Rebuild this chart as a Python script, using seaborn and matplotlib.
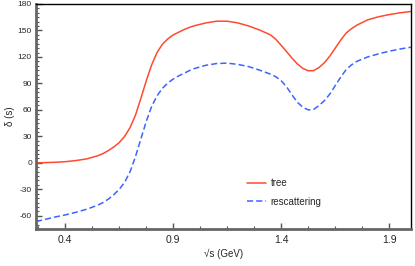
import numpy as np
import pandas as pd
import seaborn as sns
import matplotlib.pyplot as plt
from matplotlib.ticker import MultipleLocator

sqrt_s = [0.265, 0.3, 0.35, 0.4, 0.45, 0.5, 0.55, 0.575, 0.6, 0.625, 0.65, 0.675,
          0.7, 0.725, 0.75, 0.775, 0.8, 0.825, 0.85, 0.875, 0.9, 0.925, 0.95, 0.975,
          1.0, 1.05, 1.1, 1.15, 1.2, 1.25, 1.3, 1.35, 1.375, 1.4, 1.425, 1.45, 1.475,
          1.5, 1.525, 1.55, 1.575, 1.6, 1.625, 1.65, 1.675, 1.7, 1.725, 1.75, 1.8,
          1.85, 1.9, 1.95, 2.0]
tree = [0, 0.2, 0.6, 1.3, 2.6, 4.5, 8, 10.5, 14, 18, 23, 30,
        40, 54, 73, 93, 111, 125, 134.5, 140.5, 145, 148, 151, 153.5,
        155.5, 158.5, 160.5, 160.5, 158.5, 155, 150.5, 145, 140, 133, 126, 118.5, 112,
        107, 104.3, 104.5, 108, 113.5, 121, 130, 139, 147, 152, 156, 162,
        165.5, 168, 170, 171.5]
rescattering = [-66.5, -64.5, -61.5, -59, -56, -52.5, -48, -45, -41, -36, -30, -22,
                -10, 7, 27, 47, 64, 76, 84.5, 90.5, 95, 98.5, 101.5, 104.5,
                107, 110.5, 112.5, 113, 111.5, 109, 105, 100.5, 97.5, 93, 86, 77, 68.5,
                63, 60, 60.5, 65, 70.5, 78, 87.5, 97, 105.5, 111, 115, 120,
                123.5, 126.5, 129, 131]

df = pd.DataFrame({"x": sqrt_s, "tree": tree, "rescattering": rescattering})

sns.set_style("ticks")
plt.rcParams['font.family'] = ['Liberation Sans', 'DejaVu Sans']
plt.rcParams['axes.unicode_minus'] = False

fig, ax = plt.subplots(figsize=(4.15, 2.66), dpi=100)
fig.subplots_adjust(left=0.087, right=0.99, top=0.985, bottom=0.139)

sns.lineplot(data=df, x="x", y="tree", ax=ax, color="#ff4a30", lw=1.1, label="tree")
sns.lineplot(data=df, x="x", y="rescattering", ax=ax, color="#3c64ff", lw=1.1,
             label="rescattering")
ax.lines[1].set_dashes((4, 2))

ax.set_xlim(0.265, 2.0)
ax.set_ylim(-75, 180)
ax.set_xticks([0.4, 0.9, 1.4, 1.9])
ax.set_yticks([-60, -30, 0, 30, 60, 90, 120, 150, 180])
ax.xaxis.set_minor_locator(MultipleLocator(0.125, offset=0.025))
ax.yaxis.set_minor_locator(MultipleLocator(5))
ax.tick_params(axis="x", which="major", direction="in", length=4, width=1,
               color="#555555", labelsize=7.5, pad=4)
ax.tick_params(axis="y", which="major", direction="in", length=4, width=1,
               color="#555555", labelsize=6, pad=3)
ax.tick_params(which="minor", direction="in", length=2, width=0.8, color="#555555")

for s in ["left", "bottom"]:
    ax.spines[s].set_color("#666666")
    ax.spines[s].set_linewidth(2)
for s in ["top", "right"]:
    ax.spines[s].set_color("black")
    ax.spines[s].set_linewidth(1)

ax.set_xlabel("√s (GeV)", fontsize=7, labelpad=3)
ax.set_ylabel("δ (s)", fontsize=7, labelpad=2)

ax.legend(loc="upper left", bbox_to_anchor=(0.54, 0.265), frameon=False,
          fontsize=7, handlelength=1.9, handletextpad=0.5, labelspacing=0.9)

fig.savefig("out.png", dpi=100)
